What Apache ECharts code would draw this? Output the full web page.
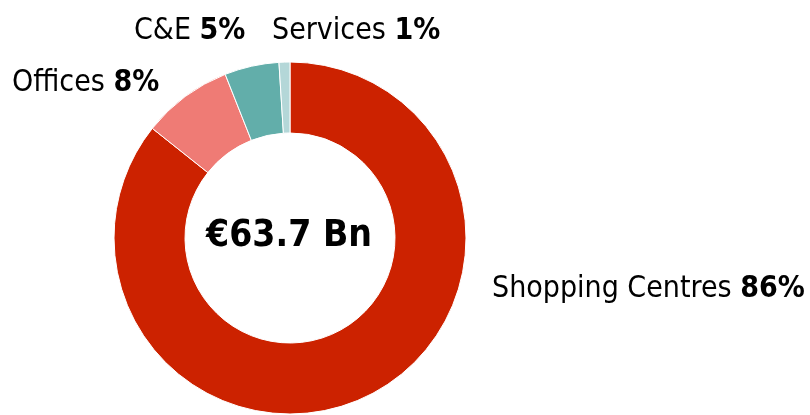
<!DOCTYPE html>
<html>
<head>
<meta charset="utf-8">
<script src="https://cdn.jsdelivr.net/npm/echarts@6/dist/echarts.min.js"></script>
<style>
  html, body { margin: 0; padding: 0; background: #fff; }
  #chart { width: 810px; height: 415px; }
</style>
</head>
<body>
<div id="chart"></div>
<script>
// sectors, clockwise from 12 o'clock
const sectors = ['Shopping Centres', 'Offices', 'C&E', 'Services'];
const shares = [85.7, 8.3, 5.0, 1.0];
const totalLabel = '€63.7 Bn';

const colors = ['#CC2200', '#EF7B75', '#62AEAA', '#B4D7D8'];
// where each label sits (left edge, vertical middle)
const labelSpots = [[492, 289], [12, 83], [134, 31], [272, 31]];

const font = '"DejaVu Sans Condensed", "DejaVu Sans", sans-serif';

const chart = echarts.init(document.getElementById('chart'));

const option = {
    animation: false,
    color: colors,
    graphic: [
        {
            type: 'text',
            x: 289,
            y: 236,
            z: 100,
            style: {
                text: totalLabel,
                align: 'center',
                verticalAlign: 'middle',
                font: 'bold 37px ' + font,
                fill: '#000'
            }
        }
    ],
    series: [
        {
            type: 'pie',
            center: [290, 238],
            radius: [105, 176],
            startAngle: 90,
            clockwise: true,
            avoidLabelOverlap: false,
            itemStyle: {
                borderColor: '#fff',
                borderWidth: 1
            },
            label: {
                show: true,
                position: 'outside',
                formatter: function (p) {
                    return '{n|' + p.name + ' }{v|' + Math.round(p.value) + '%}';
                },
                rich: {
                    n: { fontFamily: font, fontSize: 30, color: '#000' },
                    v: { fontFamily: font, fontSize: 30, fontWeight: 'bold', color: '#000' }
                }
            },
            labelLine: { show: false },
            labelLayout: function (params) {
                const spot = labelSpots[params.dataIndex];
                return {
                    x: spot[0],
                    y: spot[1],
                    align: 'left',
                    verticalAlign: 'middle'
                };
            },
            data: sectors.map((name, i) => ({ name: name, value: shares[i] }))
        }
    ]
};

chart.setOption(option);
</script>
</body>
</html>
